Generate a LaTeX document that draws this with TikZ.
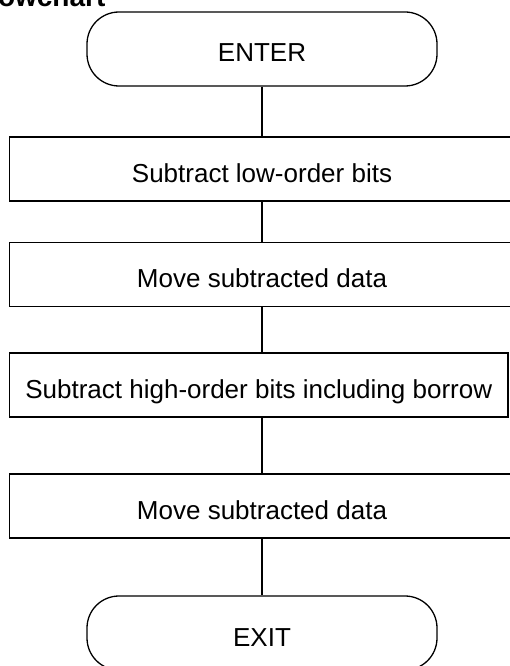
\documentclass[tikz,border=0pt]{standalone}
\usepackage{fontspec}
\setmainfont{Liberation Sans}
\begin{document}
\begin{tikzpicture}[x=1pt,y=1pt,
  line width=1.3pt,
  every node/.style={font=\fontsize{26}{30}\selectfont, text height=26pt, text depth=0pt, inner sep=0pt},
  term/.style={draw, rounded corners=32pt, minimum width=350pt, minimum height=74pt},
  proc/.style={draw, minimum width=505pt, minimum height=64pt},
  link/.style={draw}]
\useasboundingbox (0,0) rectangle (510,-666);
\node[anchor=base east, font=\fontsize{28}{32}\selectfont\bfseries, text height=, text depth=] (title) at (106,-7) {Flowchart};
\node[term] (enter) at (262,-49) {ENTER};
\node[proc] (b1) at (262,-169) {Subtract low-order bits};
\node[proc] (b2) at (262,-274.5) {Move subtracted data};
\node[proc, minimum width=498.5pt] (b3) at (258.75,-385) {Subtract high-order bits including borrow};
\node[proc] (b4) at (262,-506) {Move subtracted data};
\node[term] (exit) at (262,-633) {EXIT};
\draw (enter.south) -- (b1.north);
\draw (b1.south) -- (b2.north);
\draw (b2.south) -- (b2.south |- b3.north);
\draw (b2.south |- b3.south) -- (b4.north);
\draw (b4.south) -- (exit.north);
\end{tikzpicture}
\end{document}
